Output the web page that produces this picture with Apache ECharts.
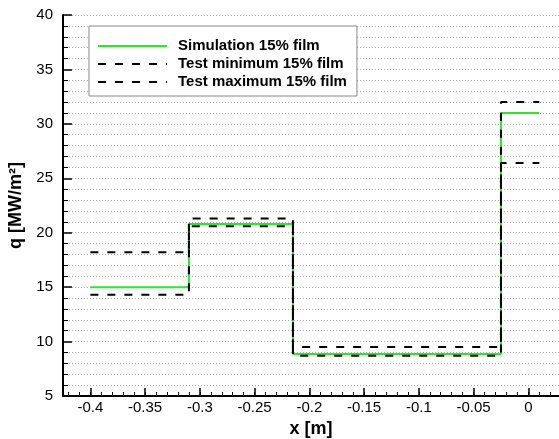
<!DOCTYPE html>
<html lang="en">
<head>
    <meta charset="UTF-8">
    <title>q vs x</title>
    <script src="https://cdn.jsdelivr.net/npm/echarts@6/dist/echarts.min.js"></script>
    <style>
        *{
            margin: 0;
            padding: 0;
        }
        .container{
            width: 559px;
            height: 439px;
        }
    </style>
</head>
<body>
<div class="container"></div>
<script>
    // step positions (x [m]) and the level held from each one to the next
    let stepX = [-0.4, -0.31, -0.215, -0.025, 0.01];
    let simulation = [15, 20.8, 8.85, 31, 31];
    let testMin = [14.3, 20.6, 8.7, 26.4, 26.4];
    let testMax = [18.2, 21.3, 9.5, 32, 32];

    let seriesNames = ['Simulation 15% film', 'Test minimum 15% film', 'Test maximum 15% film'];
    let xTicks = [-0.4, -0.35, -0.3, -0.25, -0.2, -0.15, -0.1, -0.05, 0];
    let xMinorTicks = [];
    for (let i = -42; i <= 2; i++) {
        xMinorTicks.push(i / 100);
    }

    let main = document.querySelectorAll(".container");
    let mycharts = echarts.init(main[0]);

    let font = '"Liberation Sans", Arial, sans-serif';

    function pairs(values) {
        return stepX.map((x, i) => [x, values[i]]);
    }

    function stepSeries(name, values, color, dashed) {
        return {
            name: name,
            type: 'line',
            step: 'end',
            data: pairs(values),
            symbol: 'none',
            silent: true,
            z: dashed ? 3 : 2,
            lineStyle: {
                color: color,
                width: 2,
                type: dashed ? [8, 9] : 'solid'
            },
            itemStyle: {color: color}
        };
    }

    let xBase = {
        type: 'value',
        min: -0.425,
        max: 0.028,
        position: 'bottom',
        splitLine: {show: false}
    };

    let Option = {
        animation: false,
        backgroundColor: '#fff',
        grid: {
            left: 63,
            right: 0,
            top: 15,
            bottom: 43,
            outerBoundsMode: 'none'
        },
        legend: {
            orient: 'vertical',
            left: 89,
            top: 26,
            padding: [11, 10, 5, 8],
            itemWidth: 69,
            itemHeight: 14,
            itemGap: 0,
            backgroundColor: '#fff',
            borderColor: '#888',
            borderWidth: 1,
            data: seriesNames,
            itemStyle: {opacity: 0},
            textStyle: {
                fontFamily: font,
                fontWeight: 'bold',
                fontSize: 15,
                lineHeight: 18,
                color: '#000',
                padding: [0, 0, 0, 6]
            },
            selectedMode: false
        },
        xAxis: [
            Object.assign({}, xBase, {
                name: 'x [m]',
                nameLocation: 'middle',
                nameGap: 18,
                nameTextStyle: {
                    fontFamily: font,
                    fontWeight: 'bold',
                    fontSize: 18,
                    color: '#000'
                },
                axisLine: {onZero: false, lineStyle: {color: '#000', width: 2}},
                axisTick: {
                    inside: true,
                    length: 8,
                    customValues: xTicks,
                    lineStyle: {color: '#000', width: 1.5}
                },
                axisLabel: {
                    customValues: xTicks,
                    margin: 4,
                    fontFamily: font,
                    fontSize: 15,
                    color: '#000',
                    formatter: v => String(Math.round(v * 100) / 100)
                }
            }),
            Object.assign({}, xBase, {
                axisLine: {show: false, onZero: false},
                axisLabel: {show: false},
                axisTick: {
                    inside: true,
                    length: 4,
                    customValues: xMinorTicks,
                    lineStyle: {color: '#000', width: 1}
                }
            })
        ],
        yAxis: {
            type: 'value',
            min: 5,
            max: 40,
            interval: 5,
            name: 'q [MW/m²]',
            nameLocation: 'middle',
            nameGap: 34,
            nameTextStyle: {
                fontFamily: font,
                fontWeight: 'bold',
                fontSize: 18,
                color: '#000'
            },
            axisLine: {show: true, onZero: false, lineStyle: {color: '#000', width: 2}},
            axisTick: {
                show: true,
                inside: true,
                length: 9,
                lineStyle: {color: '#000', width: 1.5}
            },
            minorTick: {
                show: true,
                splitNumber: 5,
                length: 5,
                lineStyle: {color: '#000', width: 1}
            },
            axisLabel: {
                margin: 10,
                fontFamily: font,
                fontSize: 15,
                color: '#000'
            },
            splitLine: {
                show: true,
                lineStyle: {color: '#aaa', width: 1, type: [1, 2]}
            },
            minorSplitLine: {
                show: true,
                lineStyle: {color: '#aaa', width: 1, type: [1, 2]}
            }
        },
        series: [
            stepSeries(seriesNames[0], simulation, '#2ee62e', false),
            stepSeries(seriesNames[1], testMin, '#000', true),
            stepSeries(seriesNames[2], testMax, '#000', true)
        ]
    };

    mycharts.setOption(Option);
</script>
</body>
</html>
